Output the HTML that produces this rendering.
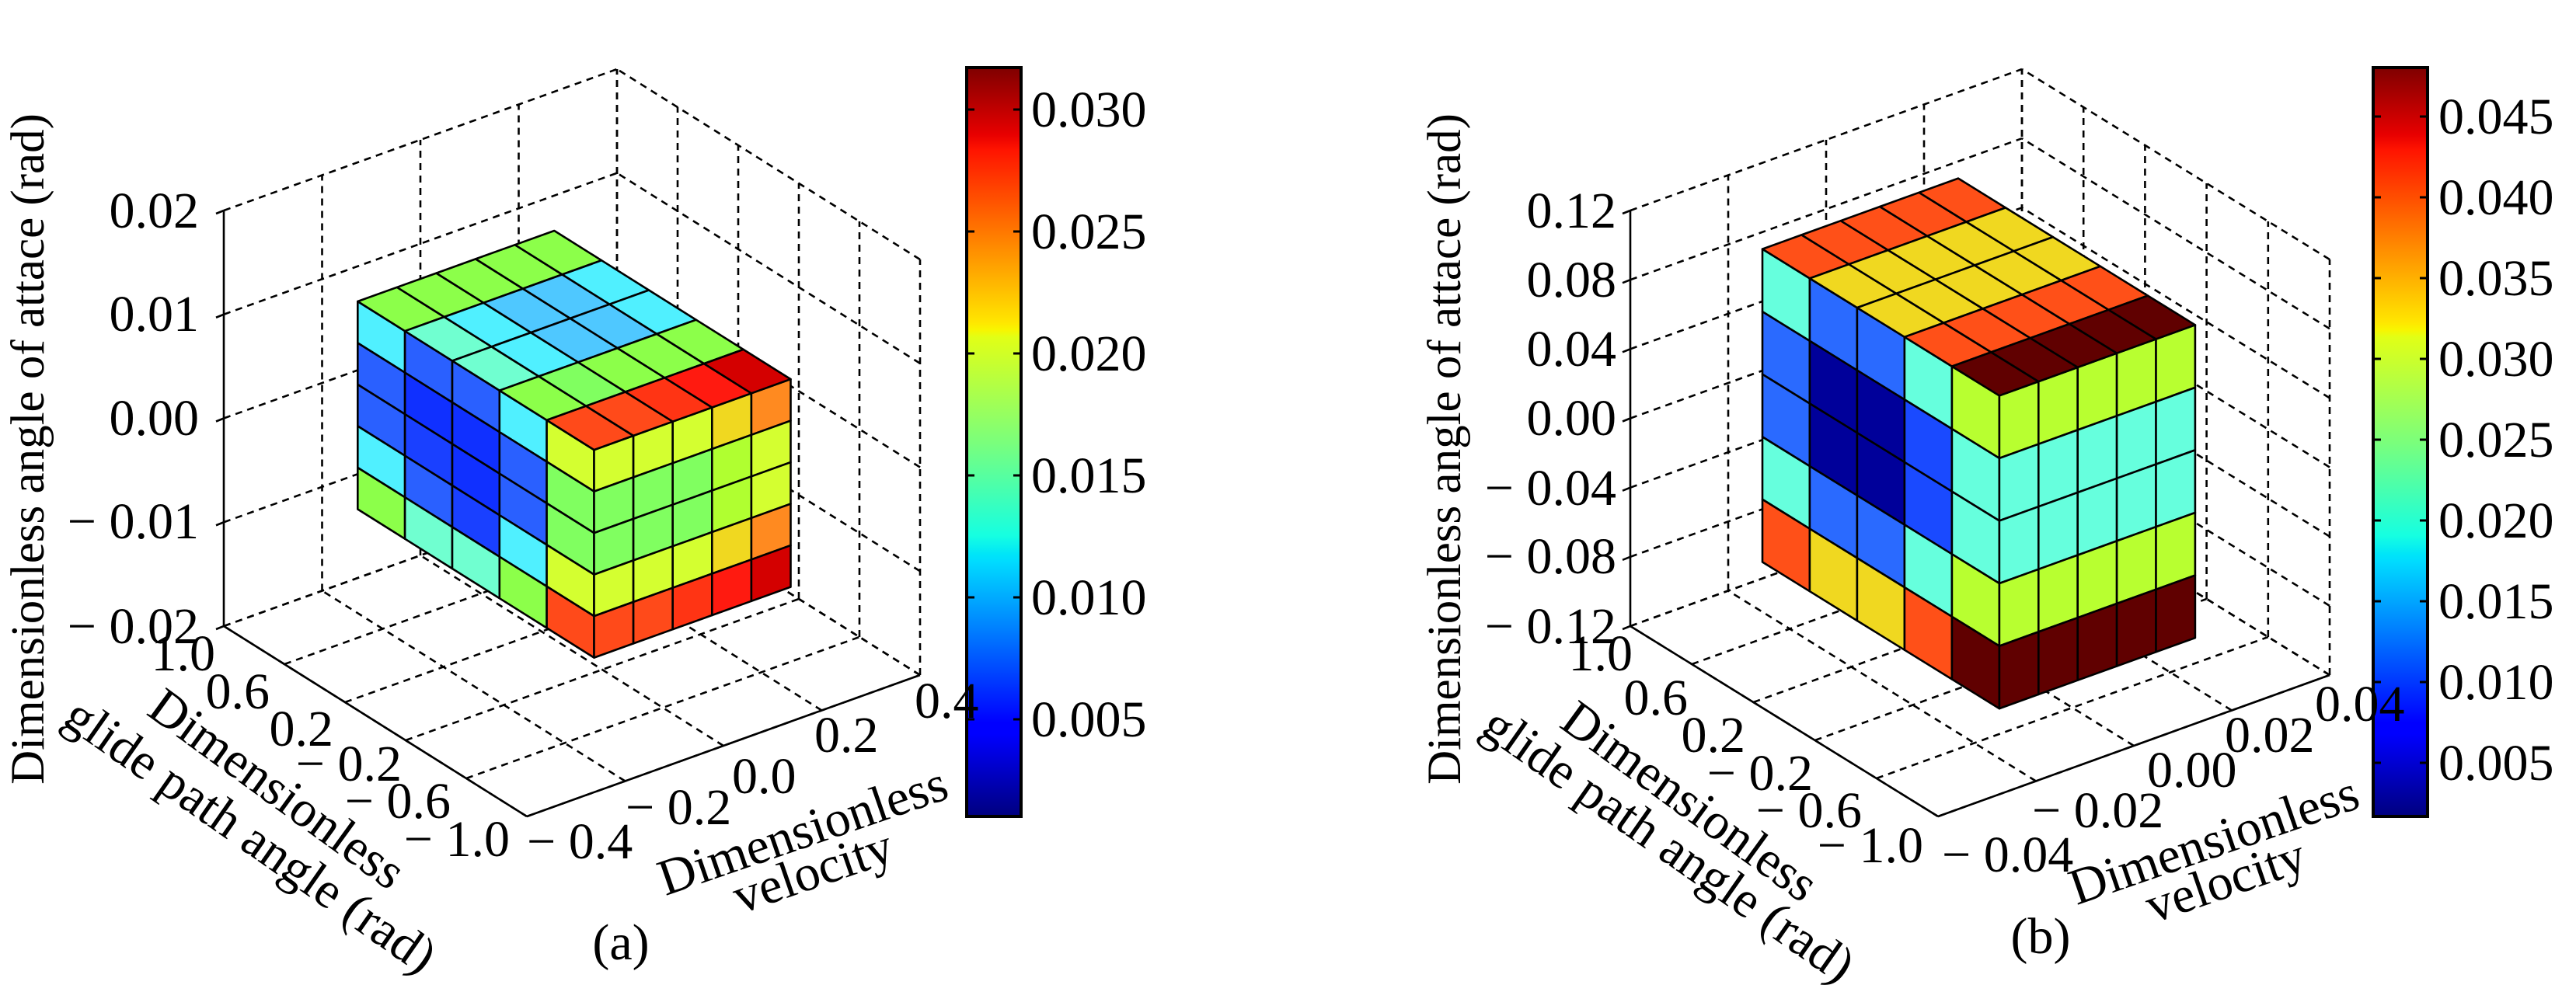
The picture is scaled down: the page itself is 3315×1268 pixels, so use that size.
<!DOCTYPE html>
<html><head><meta charset="utf-8"><style>
html,body{margin:0;padding:0;background:#fff;}
svg{display:block;}
text{font-family:"Liberation Serif","DejaVu Serif",serif;fill:#000;}
</style></head><body>
<svg id="s" width="3315" height="1268" viewBox="0 0 3315 1268" xmlns="http://www.w3.org/2000/svg">
<defs>
<linearGradient id="jet" x1="0" y1="1" x2="0" y2="0">
<stop offset="0" stop-color="#00007f"/><stop offset="0.11" stop-color="#0000ff"/><stop offset="0.125" stop-color="#0000ff"/>
<stop offset="0.34" stop-color="#00dbff"/><stop offset="0.35" stop-color="#00e5f8"/><stop offset="0.375" stop-color="#16ffe1"/>
<stop offset="0.5" stop-color="#7bff7b"/><stop offset="0.64" stop-color="#e1ff16"/><stop offset="0.65" stop-color="#f8f500"/>
<stop offset="0.66" stop-color="#ffe600"/><stop offset="0.89" stop-color="#ff1400"/><stop offset="0.91" stop-color="#e80000"/>
<stop offset="1" stop-color="#7f0000"/>
</linearGradient>
</defs>
<g id="geo"></g>
<rect x="1244" y="87" width="70" height="964" fill="url(#jet)" stroke="#000" stroke-width="4"/>
<rect x="3054" y="87" width="70" height="964" fill="url(#jet)" stroke="#000" stroke-width="4"/>
<g id="cbt" stroke="#000" stroke-width="3"></g>
<g font-size="66">
<text x="1327" y="163">0.030</text><text x="1327" y="320">0.025</text><text x="1327" y="477">0.020</text>
<text x="1327" y="634">0.015</text><text x="1327" y="791">0.010</text><text x="1327" y="948">0.005</text>
<text x="3138" y="172">0.045</text><text x="3138" y="276">0.040</text><text x="3138" y="380">0.035</text>
<text x="3138" y="484">0.030</text><text x="3138" y="588">0.025</text><text x="3138" y="692">0.020</text>
<text x="3138" y="796">0.015</text><text x="3138" y="900">0.010</text><text x="3138" y="1004">0.005</text>
<g text-anchor="end">
<text x="256" y="293">0.02</text><text x="256" y="426">0.01</text><text x="256" y="560">0.00</text>
<text x="256" y="693">− 0.01</text><text x="256" y="828">− 0.02</text>
<text x="277" y="863">1.0</text><text x="347" y="912">0.6</text><text x="429" y="960">0.2</text>
<text x="517" y="1005">− 0.2</text><text x="580" y="1053">− 0.6</text><text x="656" y="1102">− 1.0</text>
<text x="2080" y="293">0.12</text><text x="2080" y="382">0.08</text><text x="2080" y="471">0.04</text>
<text x="2080" y="560">0.00</text><text x="2080" y="650">− 0.04</text><text x="2080" y="738">− 0.08</text>
<text x="2080" y="828">− 0.12</text>
<text x="2101" y="863">1.0</text><text x="2172" y="920">0.6</text><text x="2246" y="968">0.2</text>
<text x="2333" y="1017">− 0.2</text><text x="2396" y="1065">− 0.6</text><text x="2475" y="1110">− 1.0</text>
</g>
<text x="678" y="1105">− 0.4</text><text x="805" y="1061">− 0.2</text><text x="942" y="1021">0.0</text>
<text x="1048" y="968">0.2</text><text x="1177" y="924">0.4</text>
<text x="2499" y="1122">− 0.04</text><text x="2615" y="1065">− 0.02</text><text x="2763" y="1013">0.00</text>
<text x="2863" y="968">0.02</text><text x="2979" y="928">0.04</text>
<g text-anchor="middle">
<text font-size="61" transform="translate(56,578) rotate(-90)">Dimensionless angle of attace (rad)</text>
<text font-size="61" transform="translate(1879,578) rotate(-90)">Dimensionless angle of attace (rad)</text>
<text transform="translate(344,1033) rotate(36)">Dimensionless</text>
<text transform="translate(310,1093) rotate(35)">glide path angle (rad)</text>
<text transform="translate(1040,1090) rotate(-19)">Dimensionless</text>
<text transform="translate(1053,1142) rotate(-19)">velocity</text>
<text transform="translate(2162,1049) rotate(36)">Dimensionless</text>
<text transform="translate(2135,1105) rotate(35)">glide path angle (rad)</text>
<text transform="translate(2856,1102) rotate(-19)">Dimensionless</text>
<text transform="translate(2871,1154) rotate(-19)">velocity</text>
<text x="799" y="1235">(a)</text>
<text x="2626" y="1227">(b)</text>
</g>
</g>
</svg>
<script>
(function(){
var NS="http://www.w3.org/2000/svg";
var geo=document.getElementById('geo');
function el(n,a,p){var e=document.createElementNS(NS,n);for(var k in a)e.setAttribute(k,a[k]);(p||geo).appendChild(e);return e;}
function mk(O,A,B,C){return function(u,v,w){return [O[0]+u*A[0]+v*B[0], O[1]+u*A[1]+v*B[1]+w*C];};}
function line(p,q,dash){var a={x1:p[0],y1:p[1],x2:q[0],y2:q[1],stroke:'#000','stroke-width':2.6};if(dash)a['stroke-dasharray']='9,7';el('line',a);}
function poly(pts,fill){el('polygon',{points:pts.map(function(p){return p[0].toFixed(1)+','+p[1].toFixed(1);}).join(' '),fill:fill,stroke:'#000','stroke-width':2.6,'stroke-linejoin':'round'});}
function panel(P,nu,nv,nw,cube,top,left,right){
  var i,t;
  for(i=0;i<nu;i++){t=i/(nu-1);
    if(i>0)line(P(t,1,0),P(t,1,1),true);
    line(P(t,0,0),P(t,1,0),true);}
  for(i=0;i<nv;i++){t=i/(nv-1);
    line(P(1,t,0),P(1,t,1),true);
    line(P(0,t,0),P(1,t,0),true);}
  for(i=0;i<nw;i++){t=i/(nw-1);
    line(P(0,1,t),P(1,1,t),true);
    line(P(1,0,t),P(1,1,t),true);
    var q=P(0,1,t);line([q[0]-10,q[1]+4],q,false);}
  line(P(0,1,0),P(0,1,1),false);
  line(P(0,0,0),P(0,1,0),false);
  line(P(0,0,0),P(1,0,0),false);
  var u0=cube[0],u1=cube[1],v0=cube[2],v1=cube[3],w0=cube[4],w1=cube[5];
  var du=(u1-u0)/5,dv=(v1-v0)/5,dw=(w1-w0)/5,a,b,c,r;
  for(c=0;c<5;c++)for(r=0;r<5;r++){
    var vh=v1-c*dv,vl=vh-dv,wh=w1-r*dw,wl=wh-dw;
    poly([P(u0,vh,wh),P(u0,vl,wh),P(u0,vl,wl),P(u0,vh,wl)],left[c][r]);}
  for(c=0;c<5;c++)for(r=0;r<5;r++){
    var ul=u0+c*du,uh=ul+du,wh2=w1-r*dw,wl2=wh2-dw;
    poly([P(ul,v0,wh2),P(uh,v0,wh2),P(uh,v0,wl2),P(ul,v0,wl2)],right[c][r]);}
  for(a=0;a<5;a++)for(b=0;b<5;b++){
    var ua=u0+a*du,ub=ua+du,vh3=v1-b*dv,vl3=vh3-dv;
    poly([P(ua,vh3,w1),P(ub,vh3,w1),P(ub,vl3,w1),P(ua,vl3,w1)],top[a][b]);}
}
var G='#8cff4a',AQ='#70ffd0',CY='#50f0ff',LB='#4fc8ff',OR='#ff4a1a',RO='#ff3414',R='#ff1a10',DR='#d40000',
BL='#2a60ff',BL2='#1030ff',BL3='#1a40ff',Y='#d4ff30',GR='#80ff60',GD='#f0d820',ORG='#ff8a20',GY='#b0ff30';
var Pa=mk([678,1051],[506,-182],[-390,-245],-535);
panel(Pa,5,6,5,[0.25,0.75,0.1026,0.8826,0.25,0.75],
 [[G,AQ,AQ,G,OR],[G,CY,CY,GR,OR],[G,LB,LB,G,RO],[G,LB,LB,G,R],[G,CY,CY,G,DR]],
 [[CY,BL,BL,CY,G],[BL,BL2,BL3,BL,AQ],[BL,BL2,BL2,BL3,AQ],[CY,BL,BL,CY,G],[Y,GR,GR,Y,OR]],
 [[Y,GR,GR,Y,OR],[Y,GR,GR,Y,OR],[Y,GR,GR,Y,RO],[GD,GY,GY,GD,R],[ORG,Y,Y,ORG,DR]]);
var OB='#ff5018',DK='#600000',A2='#66ffdd',B1='#2a6aff',NV='#00009a',B3='#1a4aff',GY2='#b8ff30';
var Pb=mk([2494,1051],[504,-182],[-396,-245],-535);
var tb=[];for(var i=0;i<5;i++)tb.push([OB,GD,GD,OB,DK]);
var rb=[];for(i=0;i<5;i++)rb.push([GY2,A2,A2,GY2,DK]);
panel(Pb,5,6,7,[0.25,0.75,0.119,0.889,0.12,0.873],tb,
 [[A2,B1,B1,A2,OB],[B1,NV,NV,B1,GD],[B1,NV,NV,B1,GD],[A2,B3,B3,A2,OB],[GY2,A2,A2,GY2,DK]],rb);
var cbt=document.getElementById('cbt');
function tk(x0,x1,y){el('line',{x1:x0,y1:y,x2:x0+10,y2:y,stroke:'#000','stroke-width':3},cbt);el('line',{x1:x1-10,y1:y,x2:x1,y2:y,stroke:'#000','stroke-width':3},cbt);}
[141,298,455,612,769,926].forEach(function(y){tk(1244,1314,y);});
[150,254,358,462,566,670,774,878,982].forEach(function(y){tk(3054,3124,y);});
})();
</script>
</body></html>
